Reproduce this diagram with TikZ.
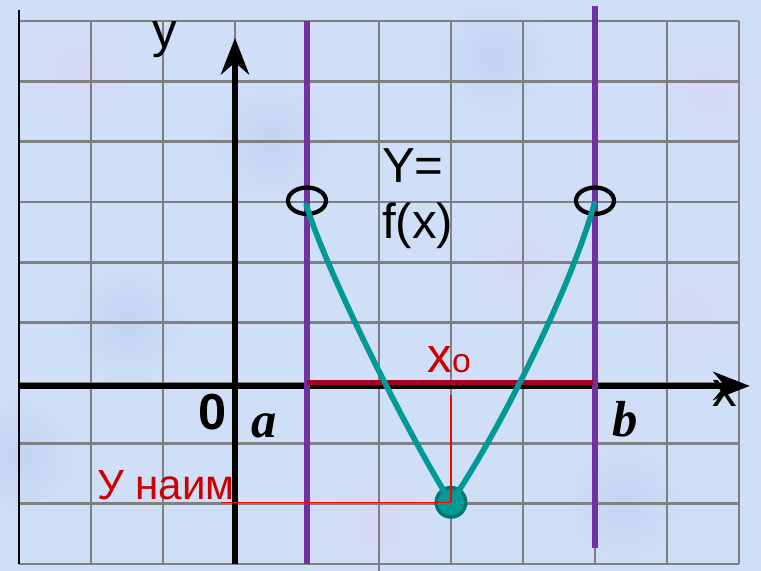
\documentclass[tikz,border=0pt]{standalone}
\usepackage{fontspec}
\setmainfont{Liberation Sans}
\newfontfamily\abfont{Liberation Serif}
\usetikzlibrary{arrows.meta,shapes.geometric}
\definecolor{bgblue}{RGB}{207,223,247}
\definecolor{bglav}{RGB}{214,216,246}
\definecolor{bgdeep}{RGB}{194,212,242}
\definecolor{gridgray}{RGB}{128,128,128}
\definecolor{boundpurple}{RGB}{112,48,160}
\definecolor{curveteal}{RGB}{0,153,150}
\definecolor{dotteal}{RGB}{0,118,116}
\definecolor{labelred}{RGB}{204,0,0}
\definecolor{segred}{RGB}{165,0,35}
\begin{document}
\begin{tikzpicture}[
  x=1.8cm, y=1.508cm,
  gridline/.style={gridgray, line width=1.9pt},
  axisline/.style={black, line width=4.2pt, -{Stealth[length=26pt, width=20pt]}},
  boundline/.style={boundpurple, line width=4pt},
  graphline/.style={curveteal, line width=4pt, line cap=round},
  hole/.style={draw, ellipse, line width=3pt, minimum width=0.95cm,
               minimum height=0.66cm, inner sep=0pt},
  bigtxt/.style={inner sep=0pt, font=\fontsize{35}{40}\selectfont},
  abtxt/.style={inner sep=0pt, anchor=base, font=\abfont\bfseries\itshape\fontsize{36}{40}\selectfont},
]
\fill[bgblue] (-3.264,-3.116) rectangle (7.306,6.348);
\useasboundingbox (-3.264,-3.116) rectangle (7.306,6.348);
\begin{scope}
  \clip (-3.264,-3.116) rectangle (7.306,6.348);
  \foreach \bx/\by/\bc in {-2.2/5.2/bglav, 0.5/4.0/bgdeep, 3.6/5.4/bgdeep, 6.3/1.2/bglav,
                           -1.5/1.0/bgdeep, 2.0/-2.4/bglav, 5.4/-2.0/bgdeep, 4.0/2.0/bglav,
                           -3.0/-1.2/bgdeep, 6.6/4.8/bglav}
    \shade[inner color=\bc, outer color=bgblue] (\bx,\by) circle (1.6cm);
\end{scope}

\foreach \gx in {-3,...,7}
  \draw[gridline] (\gx,-3) -- (\gx,6);
\foreach \gy in {-3,...,6}
  \draw[gridline] (-3,\gy) -- (7,\gy);
\draw[gridline] (2,-3) -- (2,-3.116);
\draw[black, line width=1.6pt] (-3,6.18) -- (-3,-3);

\coordinate (xs) at (-3,-0.05);
\coordinate (xe) at (7.15,-0.05);
\coordinate (ys) at (0,-3);
\coordinate (ye) at (0,5.72);

\node[bigtxt, anchor=base] (xlab) at (6.8,-0.39) {x};
\node[bigtxt, anchor=base] (ylab) at (-0.97,5.56) {y};
\draw[axisline] (xs) -- (xe);
\draw[axisline] (ys) -- (ye);

\draw[boundline] (1,6) -- (1,-3);
\draw[boundline] (5,6.25) -- (5,-2.73);
\draw[segred, line width=3.6pt] (1,0) -- (4.97,0);

\node[hole] (ha) at (1,3.02) {};
\node[hole] (hb) at (5,3.02) {};
\node[circle, fill=curveteal, draw=dotteal, line width=2.4pt,
      minimum size=0.74cm, inner sep=0pt] (xmin) at (3,-1.98) {};

\draw[graphline] (0.99,2.95) .. controls (1.3,1.75) and (2.45,-0.95) .. (3,-1.98);
\draw[graphline] (3,-1.98) .. controls (3.6,-0.95) and (4.65,1.5) .. (4.99,2.97);

\coordinate (ymark) at (-0.19,-1.98);
\coordinate (xmark) at (3,-0.2);
\draw[red, line width=1pt] (ymark) -- (xmin.center);
\draw[red, line width=1pt] (xmark) -- (xmin.center);

\node[bigtxt, anchor=base west] (yeq) at (2.04,3.33) {Y=};
\node[bigtxt, anchor=base west] (fx) at (2.04,2.40) {f(x)};
\node[bigtxt, anchor=base west, labelred] (xnull) at (2.67,0.18)
  {x{\fontsize{24}{28}\selectfont o}};
\node[bigtxt, anchor=base west, labelred, font=\fontsize{30}{36}\selectfont]
  (ymin) at (-1.92,-1.94) {У наим};
\node[bigtxt, anchor=base, font=\bfseries\fontsize{36}{40}\selectfont]
  (zero) at (-0.31,-0.78) {0};
\node[abtxt] (alab) at (0.40,-0.91) {a};
\node[abtxt] (blab) at (5.42,-0.895) {b};
\end{tikzpicture}
\end{document}
